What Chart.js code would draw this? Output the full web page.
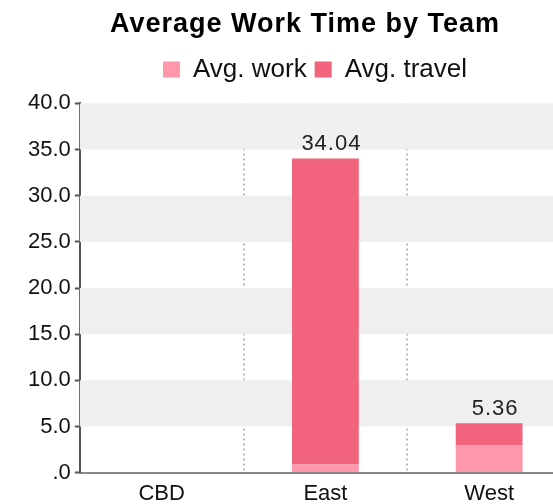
<!DOCTYPE html>
<html>
<head>
<meta charset="utf-8">
<script src="https://cdn.jsdelivr.net/npm/chart.js@4/dist/chart.umd.min.js"></script>
<style>
html,body{margin:0;padding:0;background:#fff;overflow:hidden;}
#wrap{width:553px;height:504px;overflow:hidden;}
canvas{display:block;}
</style>
</head>
<body>
<div id="wrap"><canvas id="c" width="610" height="515"></canvas></div>
<script>
const categories = ['CBD', 'East', 'West'];
const avgWork = [0, 0.87, 2.93];
const avgTravel = [0, 33.17, 2.43];
const yTicks = [0, 5, 10, 15, 20, 25, 30, 35, 40];

const FONT = '"Liberation Sans", Arial, sans-serif';

const layoutTweaks = {
  id: 'layoutTweaks',
  beforeInit(chart) {
    const fit = chart.legend.fit;
    chart.legend.fit = function () {
      fit.bind(chart.legend)();
      this.height += 11;
    };
    const tdraw = chart.titleBlock.draw.bind(chart.titleBlock);
    chart.titleBlock.draw = function () {
      const ctx = chart.ctx;
      ctx.save();
      ctx.letterSpacing = '1px';
      tdraw();
      ctx.restore();
    };
  },
  afterLayout(chart) {
    chart.titleBlock.left += 15;
    chart.legend.left += 35;
  }
};

const bandPlugin = {
  id: 'bands',
  beforeDatasetsDraw(chart) {
    const {ctx, chartArea, scales: {y}} = chart;
    ctx.save();
    ctx.fillStyle = '#efefef';
    for (let k = 1; k < yTicks.length - 1; k += 2) {
      const top = y.getPixelForValue(yTicks[k + 1]);
      const bot = y.getPixelForValue(yTicks[k]);
      ctx.fillRect(chartArea.left, top, chartArea.right - chartArea.left, bot - top);
    }
    ctx.restore();
  }
};

const totalsPlugin = {
  id: 'totals',
  afterDatasetsDraw(chart) {
    const {ctx} = chart;
    const meta = chart.getDatasetMeta(1);
    const y = chart.scales.y;
    ctx.save();
    ctx.font = '22px ' + FONT;
    ctx.letterSpacing = '1px';
    ctx.fillStyle = '#222';
    ctx.textAlign = 'center';
    ctx.textBaseline = 'alphabetic';
    categories.forEach((c, i) => {
      const total = avgWork[i] + avgTravel[i];
      if (total <= 0) return;
      const bar = meta.data[i];
      ctx.fillText(total.toFixed(2), bar.x + 6, y.getPixelForValue(total) - 8);
    });
    ctx.restore();
  }
};

new Chart(document.getElementById('c'), {
  type: 'bar',
  data: {
    labels: categories,
    datasets: [
      {label: 'Avg. work', data: avgWork, backgroundColor: '#ff97aa', borderWidth: 0},
      {label: 'Avg. travel', data: avgTravel, backgroundColor: '#f2647d', borderWidth: 0}
    ]
  },
  options: {
    responsive: false,
    animation: false,
    layout: {padding: {left: 24, right: 39, top: 4, bottom: 0}},
    plugins: {
      title: {
        display: true,
        text: 'Average Work Time by Team',
        color: '#000',
        font: {family: FONT, size: 27, weight: 'bold'},
        padding: {top: 4, bottom: 8}
      },
      legend: {
        labels: {
          boxWidth: 17, boxHeight: 16, padding: 8, color: '#111',
          font: {family: FONT, size: 26}
        }
      },
      tooltip: {enabled: false}
    },
    datasets: {bar: {categoryPercentage: 0.8, barPercentage: 0.51}},
    scales: {
      x: {
        stacked: true,
        grid: {color: '#bbb', lineWidth: 2, drawTicks: false, offset: true},
        border: {color: '#888', width: 2, dash: [2, 3]},
        ticks: {color: '#111', padding: 8, font: {family: FONT, size: 22}}
      },
      y: {
        stacked: true,
        min: 0, max: 40,
        grid: {drawOnChartArea: false, drawTicks: true, tickLength: 5, tickColor: '#555', tickWidth: 2},
        border: {color: '#555', width: 2},
        ticks: {
          stepSize: 5, color: '#111', padding: 4,
          font: {family: FONT, size: 22},
          callback: v => v === 0 ? '.0' : v.toFixed(1)
        }
      }
    }
  },
  plugins: [layoutTweaks, bandPlugin, totalsPlugin]
});
</script>
</body>
</html>
